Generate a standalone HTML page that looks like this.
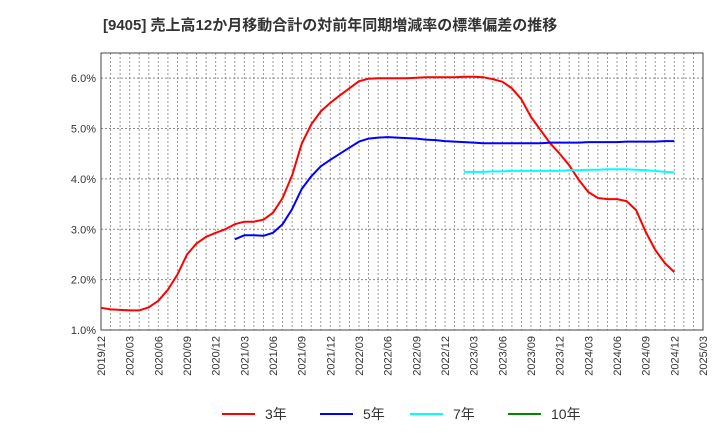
<!DOCTYPE html>
<html><head><meta charset="utf-8"><style>
body{margin:0;background:#fff;width:720px;height:440px;overflow:hidden;font-family:"Liberation Sans","Noto Sans CJK JP",sans-serif}
</style></head><body>
<svg width="720" height="440" xmlns="http://www.w3.org/2000/svg" font-family="Liberation Sans, Noto Sans CJK JP, sans-serif">
<text x="103" y="30" font-size="15" font-weight="bold" fill="#333">[9405]  売上高12か月移動合計の対前年同期増減率の標準偏差の推移</text>
<g id="grid"></g>
<rect x="101" y="53" width="602" height="277" fill="none" stroke="#444" stroke-width="1"/>
<g id="yt"></g><g id="xt"></g><g id="series"></g><g id="legend"></g>
</svg>
<script>
const xLabels=["2019/12","2020/03","2020/06","2020/09","2020/12","2021/03","2021/06","2021/09","2021/12","2022/03","2022/06","2022/09","2022/12","2023/03","2023/06","2023/09","2023/12","2024/03","2024/06","2024/09","2024/12","2025/03"];
const yTicks=[1,2,3,4,5,6];
const yLabels=["1.0%","2.0%","3.0%","4.0%","5.0%","6.0%"];
const s3=[1.44,1.41,1.40,1.39,1.39,1.45,1.58,1.80,2.10,2.50,2.72,2.85,2.93,3.00,3.10,3.15,3.15,3.19,3.33,3.62,4.07,4.70,5.08,5.34,5.51,5.66,5.80,5.94,5.99,6.00,6.00,6.00,6.00,6.01,6.02,6.02,6.02,6.02,6.03,6.03,6.02,5.98,5.93,5.80,5.58,5.23,4.97,4.71,4.50,4.27,3.98,3.74,3.62,3.60,3.60,3.56,3.38,2.95,2.59,2.33,2.15];
const s5Start=14;
const s5=[2.80,2.88,2.88,2.87,2.93,3.10,3.40,3.80,4.05,4.25,4.38,4.50,4.62,4.74,4.80,4.82,4.83,4.82,4.81,4.80,4.78,4.77,4.75,4.74,4.73,4.72,4.71,4.71,4.71,4.71,4.71,4.71,4.71,4.72,4.72,4.72,4.72,4.73,4.73,4.73,4.73,4.74,4.74,4.74,4.74,4.75,4.75];
const s7Start=38;
const s7=[4.14,4.14,4.14,4.15,4.15,4.16,4.16,4.16,4.16,4.16,4.16,4.17,4.17,4.18,4.18,4.19,4.19,4.19,4.18,4.17,4.16,4.14,4.13];
const NS="http://www.w3.org/2000/svg";
const X0=101,X1=703,Y0=330,YMIN=1,YMAX=6.5,Y1=53,NM=63;
const xs=m=>X0+(X1-X0)*m/NM;
const ys=v=>Y0-(Y0-Y1)*(v-YMIN)/(YMAX-YMIN);
function mk(t,a,p){const e=document.createElementNS(NS,t);for(const k in a)e.setAttribute(k,a[k]);p.appendChild(e);return e;}
const g=document.getElementById('grid');
for(let m=1;m<NM;m++){const l=mk('line',{x1:xs(m),x2:xs(m),y1:Y1,y2:Y0,stroke:'#999','stroke-dasharray':'2,2','stroke-width':1},g);

}
yTicks.forEach((v,i)=>{const l=mk('line',{x1:X0,x2:X1,y1:ys(v),y2:ys(v),stroke:'#888','stroke-dasharray':'2,2'},g);


const t=mk('text',{x:96,y:ys(v)+4,'font-size':11,'text-anchor':'end',fill:'#333'},document.getElementById('yt'));t.textContent=yLabels[i];

});
xLabels.forEach((s,i)=>{const x=xs(i*3);const t=mk('text',{transform:`translate(${x+4},${336}) rotate(-90)`,'font-size':11,'text-anchor':'end',fill:'#333'},document.getElementById('xt'));t.textContent=s;

});
const sg=document.getElementById('series');
function line(arr,start,col,name){const pts=arr.map((v,i)=>xs(start+i).toFixed(1)+','+ys(v).toFixed(1)).join(' ');
const p=mk('polyline',{points:pts,fill:'none',stroke:col,'stroke-width':2,'stroke-linejoin':'round'},sg);

}
line(s3,0,'#f00','series-3y');line(s5,s5Start,'#00f','series-5y');line(s7,s7Start,'#0ff','series-7y');
const lg=document.getElementById('legend');
[["3年","#f00",222],["5年","#00f",320],["7年","#0ff",410],["10年","#080",508]].forEach(([n,c,x])=>{
const gg=mk('g',{},lg);


mk('line',{x1:x,x2:x+33,y1:414,y2:414,stroke:c,'stroke-width':2},gg);
const t=mk('text',{x:x+43,y:419,'font-size':14,fill:'#333'},gg);t.textContent=n;});
</script>
</body></html>
